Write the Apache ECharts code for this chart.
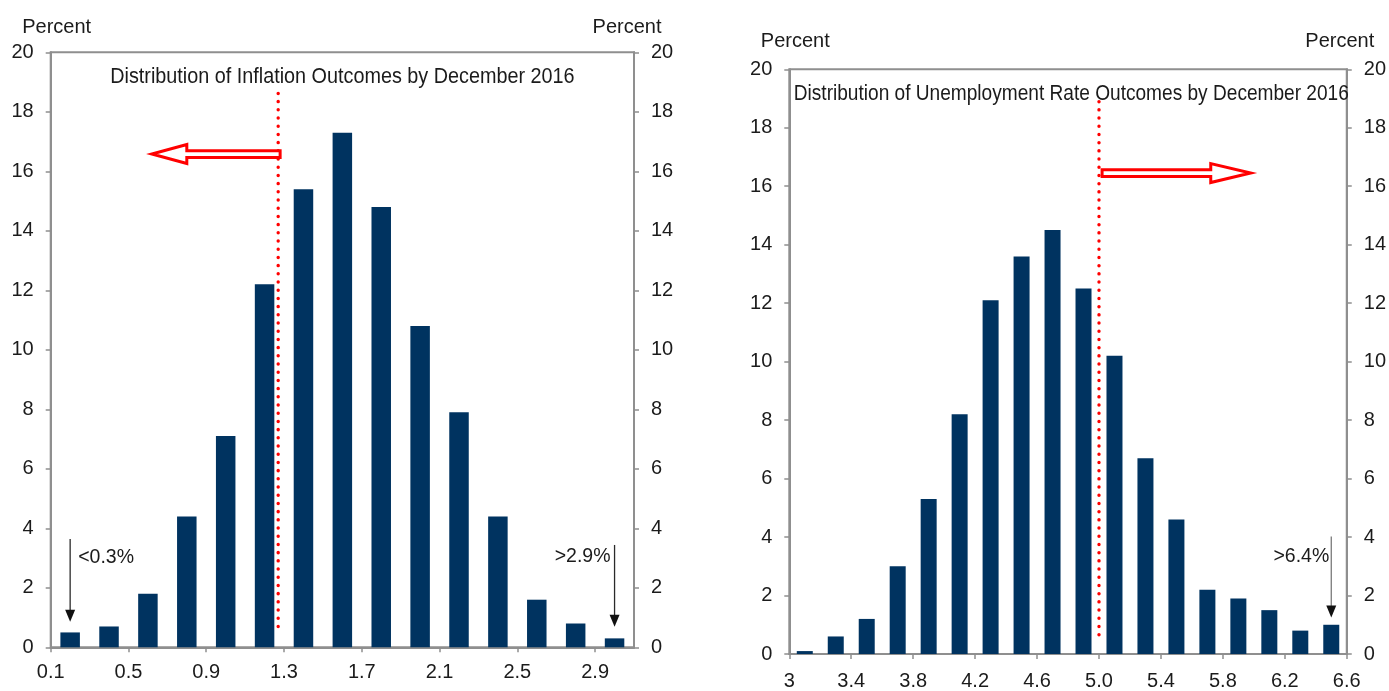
<!DOCTYPE html>
<html>
<head>
<meta charset="utf-8">
<script src="https://cdn.jsdelivr.net/npm/echarts@6/dist/echarts.min.js"></script>
<style>
  html, body { margin: 0; padding: 0; background: #ffffff; }
  #chart { width: 1389px; height: 691px; }
</style>
</head>
<body>
<div id="chart"></div>
<script>
// ---- Inflation outcomes: bin centres (percent) and probability of each bin (percent)
const inflationBins = [0.2, 0.4, 0.6, 0.8, 1.0, 1.2, 1.4, 1.6, 1.8, 2.0, 2.2, 2.4, 2.6, 2.8, 3.0];
const inflationShares = [0.5, 0.7, 1.8, 4.4, 7.1, 12.2, 15.4, 17.3, 14.8, 10.8, 7.9, 4.4, 1.6, 0.8, 0.3];
const inflationTicks = [0.1, 0.5, 0.9, 1.3, 1.7, 2.1, 2.5, 2.9];
const inflationTickLabels = ['0.1', '0.5', '0.9', '1.3', '1.7', '2.1', '2.5', '2.9'];

// ---- Unemployment rate outcomes: bin centres (percent) and probability of each bin (percent)
const unemploymentBins = [3.1, 3.3, 3.5, 3.7, 3.9, 4.1, 4.3, 4.5, 4.7, 4.9, 5.1, 5.3, 5.5, 5.7, 5.9, 6.1, 6.3, 6.5];
const unemploymentShares = [0.1, 0.6, 1.2, 3.0, 5.3, 8.2, 12.1, 13.6, 14.5, 12.5, 10.2, 6.7, 4.6, 2.2, 1.9, 1.5, 0.8, 1.0];
const unemploymentTicks = [3.0, 3.4, 3.8, 4.2, 4.6, 5.0, 5.4, 5.8, 6.2, 6.6];
const unemploymentTickLabels = ['3', '3.4', '3.8', '4.2', '4.6', '5.0', '5.4', '5.8', '6.2', '6.6'];

// ---- Reference levels drawn as red dotted lines, and the direction arrows beside them
const inflationMarker = 1.27;
const unemploymentMarker = 5.0;
const inflationArrow = [[1.28, 0.62, 16.58]];      // [tail, tip, level]
const unemploymentArrow = [[5.02, 5.98, 16.45]];   // [tail, tip, level]

// ---- Tail-bin call-outs
const inflationNotes = [
  { text: '<0.3%', x: 0.2, from: 3.64, to: 0.86, textY: 3.0, dx: 8, line: '#2a2a2a' },
  { text: '>2.9%', x: 3.0, from: 3.44, to: 0.69, textY: 3.05, dx: -4, line: '#2a2a2a' }
];
const unemploymentNotes = [
  { text: '>6.4%', x: 6.5, from: 4.02, to: 1.25, textY: 3.34, dx: -2, line: '#7a7a7a' }
];

const titles = [
  'Distribution of Inflation Outcomes by December 2016',
  'Distribution of Unemployment Rate Outcomes by December 2016'
];

// ---- Styling
const FONT = "'Liberation Sans', Arial, sans-serif";
const INK = '#1b1b1b';
const FRAME = '#8f8f8f';
const NAVY = '#003360';
const RED = '#ff0000';
const LABEL_SIZE = 20;

const grids = [
  { left: 50.7, top: 52.3, width: 583.3, height: 595, show: true, borderColor: FRAME, borderWidth: 2 },
  { left: 789.3, top: 69.3, width: 564, height: 585.2, show: true, borderColor: FRAME, borderWidth: 2 }
];

function xAxisFor(gridIndex, min, max, ticks, labels, margin) {
  return {
    type: 'value', gridIndex, min, max,
    axisLine: { show: true, onZero: false, lineStyle: { color: FRAME, width: 2 } },
    axisTick: { show: true, inside: false, length: 5, customValues: ticks, lineStyle: { color: FRAME, width: 1.5 } },
    axisLabel: {
      customValues: ticks, margin, fontFamily: FONT, fontSize: LABEL_SIZE, color: INK,
      formatter: v => labels[ticks.findIndex(t => Math.abs(t - v) < 1e-6)]
    },
    splitLine: { show: false }
  };
}

function yAxisFor(gridIndex, position, nameGap) {
  return {
    type: 'value', gridIndex, position, min: 0, max: 20, interval: 2,
    name: 'Percent', nameLocation: 'end', nameGap,
    nameTextStyle: {
      fontFamily: FONT, fontSize: LABEL_SIZE, color: INK,
      padding: position === 'left' ? [0, 0, 0, 12] : [0, 14, 0, 0]
    },
    axisLine: { show: true, lineStyle: { color: FRAME, width: 2 } },
    axisTick: { show: true, inside: false, length: 5, lineStyle: { color: FRAME, width: 1.5 } },
    axisLabel: { margin: 17, fontFamily: FONT, fontSize: LABEL_SIZE, color: INK },
    splitLine: { show: false }
  };
}

// Hollow block arrow: white body with a red outline
function renderHollowArrow(params, api) {
  const level = api.value(2);
  const tail = api.coord([api.value(0), level]);
  const tip = api.coord([api.value(1), level]);
  const dir = tip[0] > tail[0] ? 1 : -1;
  const headLen = dir > 0 ? 40 : 35;
  const headHalf = 9.5;
  const shaftHalf = 3.4;
  const base = tip[0] - dir * headLen;
  const y = tip[1];
  return {
    type: 'polygon',
    shape: {
      points: [
        [tail[0], y - shaftHalf], [base, y - shaftHalf], [base, y - headHalf],
        [tip[0], y], [base, y + headHalf], [base, y + shaftHalf], [tail[0], y + shaftHalf]
      ]
    },
    style: { fill: '#ffffff', stroke: RED, lineWidth: 3, lineJoin: 'miter' }
  };
}

// Thin pointer arrow with its text call-out
function noteRenderer(notes) {
  return function (params, api) {
    const n = notes[params.dataIndex];
    const top = api.coord([n.x, n.from]);
    const tip = api.coord([n.x, n.to]);
    const txt = api.coord([n.x, n.textY]);
    const head = 12, half = 5;
    return {
      type: 'group',
      children: [
        { type: 'line', shape: { x1: top[0], y1: top[1], x2: tip[0], y2: tip[1] - head + 1 },
          style: { stroke: n.line, lineWidth: 1.3 } },
        { type: 'polygon', shape: { points: [[tip[0] - half, tip[1] - head], [tip[0] + half, tip[1] - head], [tip[0], tip[1]]] },
          style: { fill: '#111111' } },
        { type: 'text', x: txt[0] + n.dx, y: txt[1],
          style: { text: n.text, fontFamily: FONT, fontSize: 19.5, fill: INK,
                   align: n.dx > 0 ? 'left' : 'right', verticalAlign: 'middle' } }
      ]
    };
  };
}

function dottedLine(xAxisIndex, yAxisIndex, x, from, to) {
  return {
    type: 'line', xAxisIndex, yAxisIndex, symbol: 'none', silent: true, z: 4,
    data: [[x, from], [x, to]],
    lineStyle: { color: RED, width: 3.4, type: [0.1, 8.1], cap: 'round' }
  };
}

// Chart headings: a slightly condensed face, centred over each plot
function heading(text, cx, cy, squeeze) {
  return {
    type: 'text', x: cx, y: cy, scaleX: squeeze, silent: true, z: 10,
    style: { text, fontFamily: FONT, fontSize: 22, fill: INK, align: 'center', verticalAlign: 'middle' }
  };
}

const option = {
  animation: false,
  backgroundColor: '#ffffff',
  graphic: [
    heading(titles[0], 342.4, 77, 0.9),
    heading(titles[1], 1071.3, 94, 0.868)
  ],
  grid: grids,
  xAxis: [
    xAxisFor(0, 0.1, 3.1, inflationTicks, inflationTickLabels, 15),
    xAxisFor(1, 3.0, 6.6, unemploymentTicks, unemploymentTickLabels, 17)
  ],
  yAxis: [
    yAxisFor(0, 'left', 15),
    yAxisFor(0, 'right', 15),
    yAxisFor(1, 'left', 18),
    yAxisFor(1, 'right', 18)
  ],
  series: [
    {
      type: 'bar', name: 'Inflation', xAxisIndex: 0, yAxisIndex: 0, barWidth: 19.5,
      itemStyle: { color: NAVY },
      data: inflationBins.map((b, i) => [b, inflationShares[i]])
    },
    {
      type: 'bar', name: 'Unemployment rate', xAxisIndex: 1, yAxisIndex: 2, barWidth: 16,
      itemStyle: { color: NAVY },
      data: unemploymentBins.map((b, i) => [b, unemploymentShares[i]])
    },
    dottedLine(0, 0, inflationMarker, 0.7, 18.8),
    dottedLine(1, 2, unemploymentMarker, 0.66, 19.05),
    { type: 'custom', xAxisIndex: 0, yAxisIndex: 0, renderItem: renderHollowArrow, data: inflationArrow, z: 5, silent: true },
    { type: 'custom', xAxisIndex: 1, yAxisIndex: 2, renderItem: renderHollowArrow, data: unemploymentArrow, z: 5, silent: true },
    { type: 'custom', xAxisIndex: 0, yAxisIndex: 0, renderItem: noteRenderer(inflationNotes),
      data: inflationNotes.map(n => [n.x, n.from]), z: 5, silent: true },
    { type: 'custom', xAxisIndex: 1, yAxisIndex: 2, renderItem: noteRenderer(unemploymentNotes),
      data: unemploymentNotes.map(n => [n.x, n.from]), z: 5, silent: true }
  ]
};

const chart = echarts.init(document.getElementById('chart'), null, { renderer: 'canvas' });
chart.setOption(option);
</script>
</body>
</html>
